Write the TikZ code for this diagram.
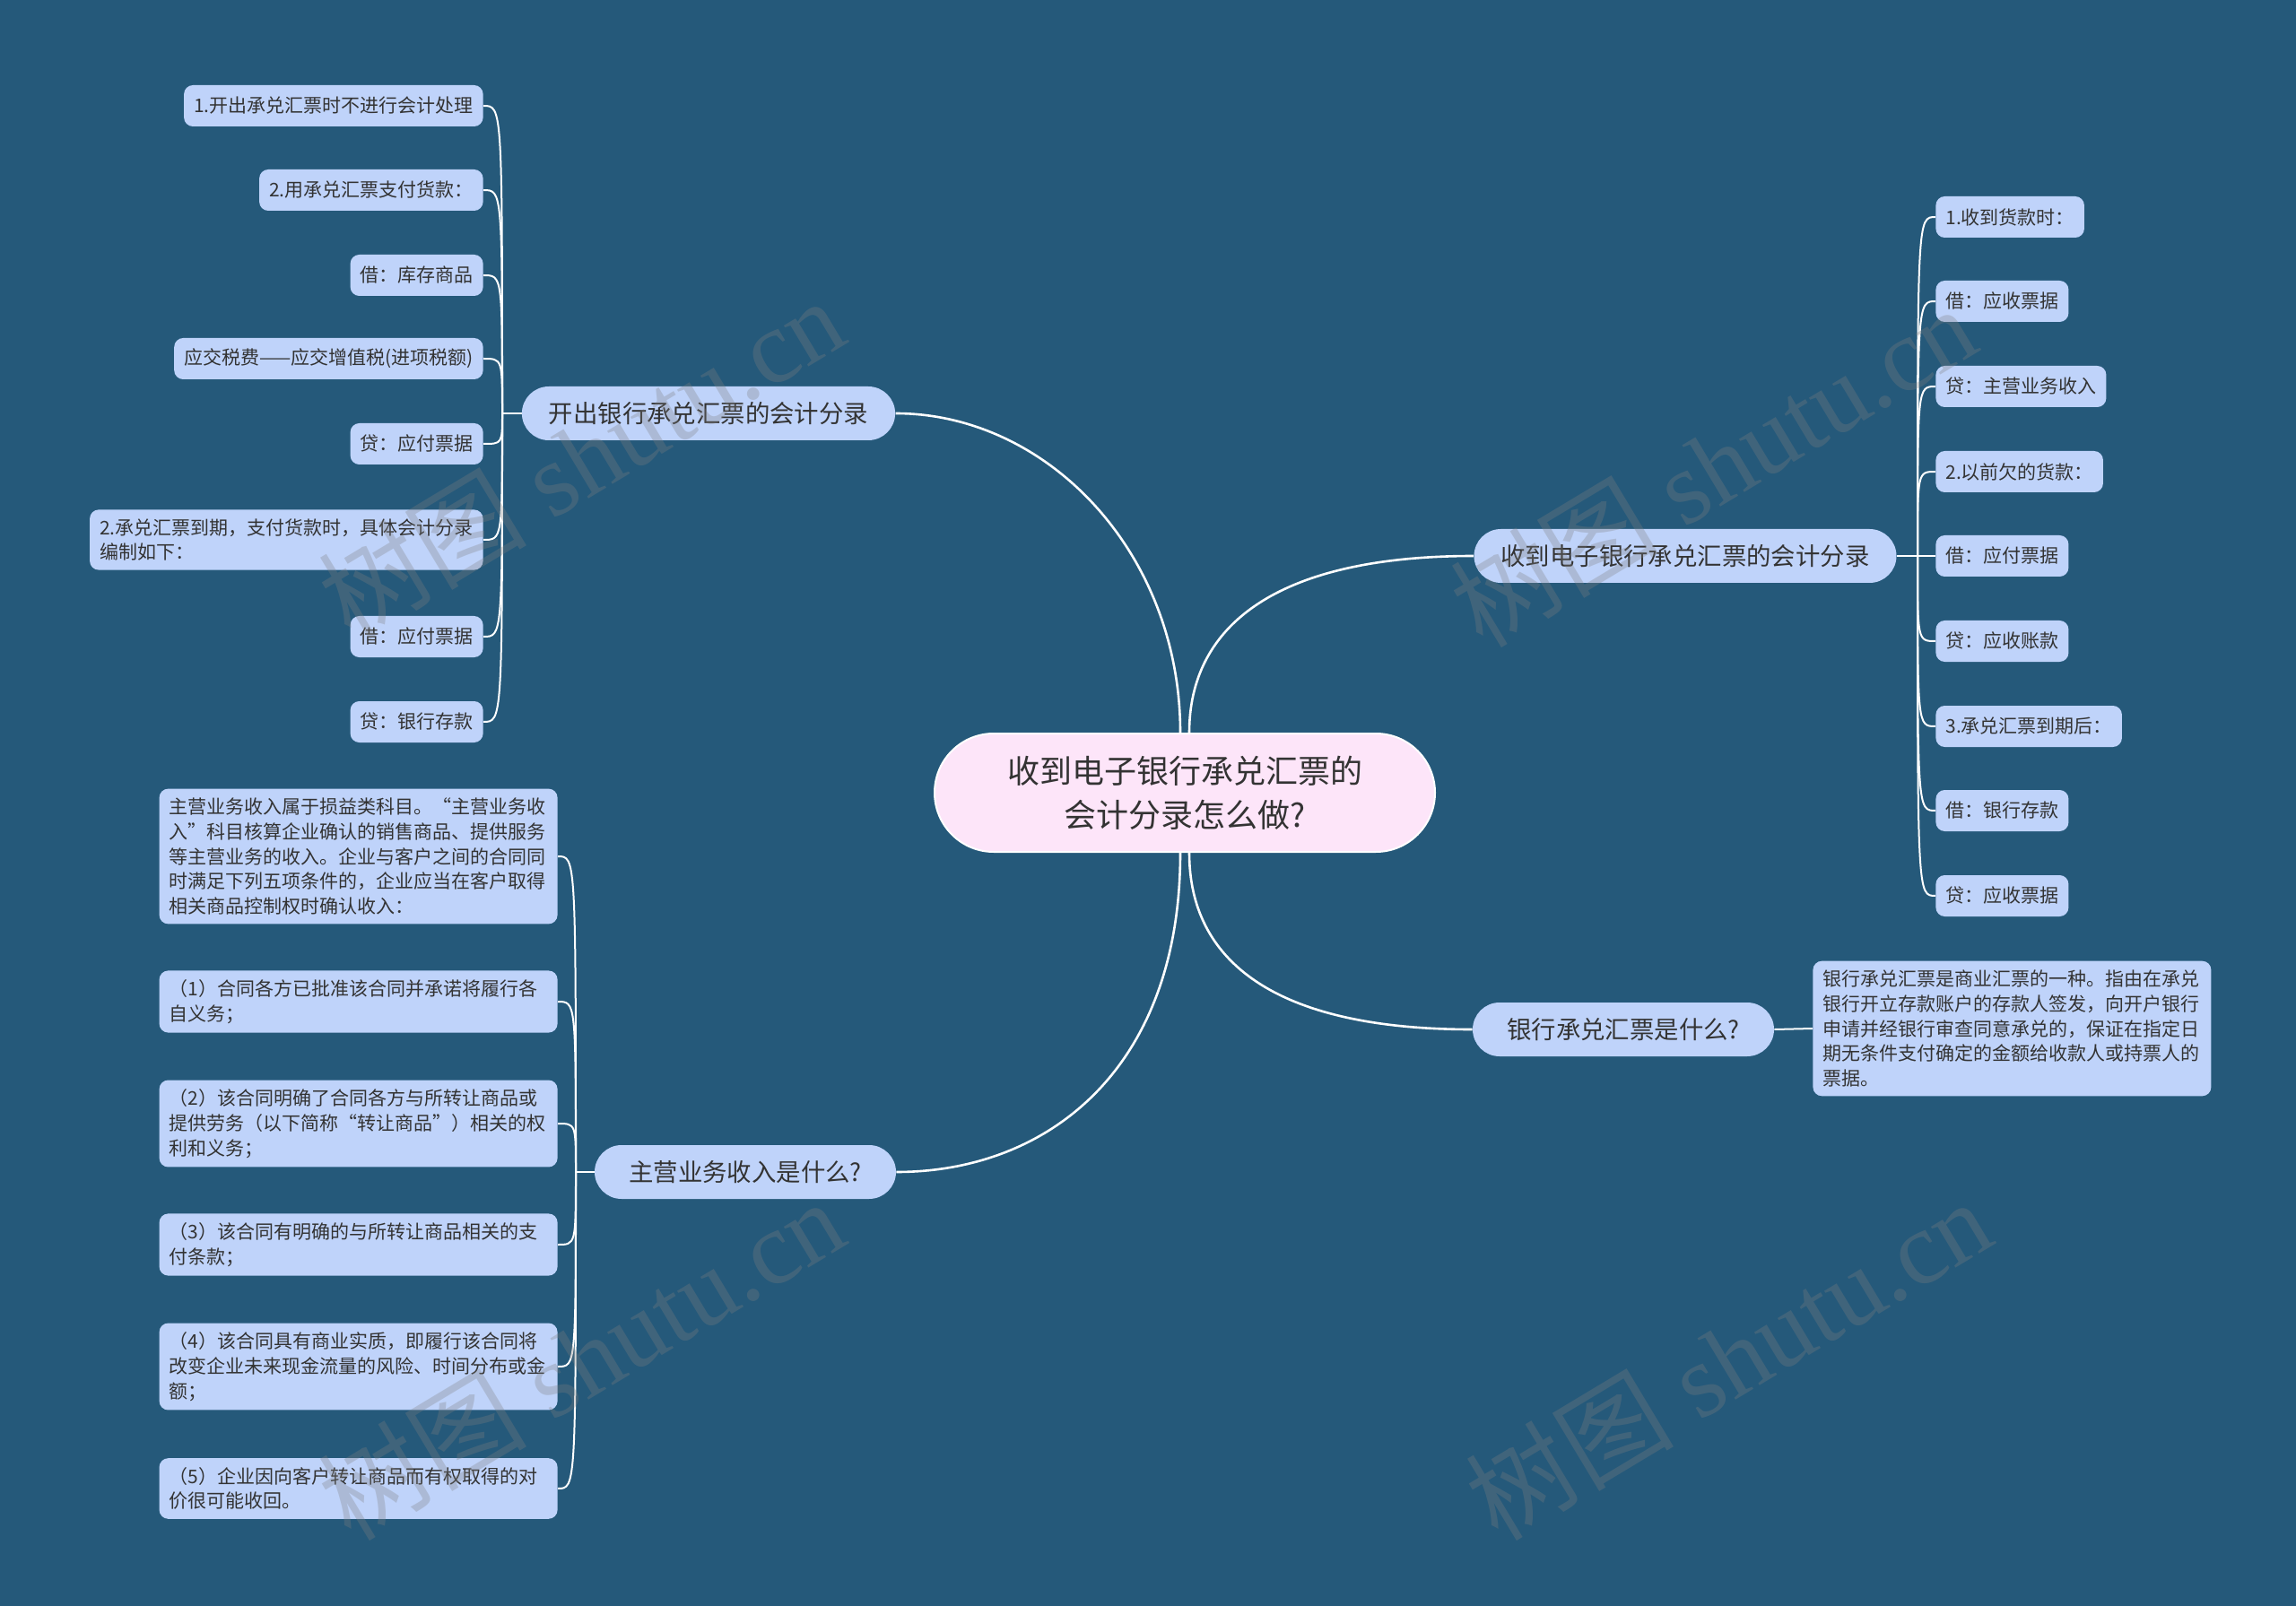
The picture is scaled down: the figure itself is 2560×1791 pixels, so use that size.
\documentclass[tikz,border=0pt]{standalone}
\usepackage{fontspec}
\setmainfont{Noto Sans CJK SC}
\newfontfamily\wmfont{Liberation Serif}
\newfontfamily\cjkfont{Noto Sans CJK SC}
\usetikzlibrary{calc,backgrounds}
\definecolor{bg}{HTML}{25597A}
\definecolor{nodeblue}{HTML}{BFD3FA}
\definecolor{centerpink}{HTML}{FDE5F9}
\definecolor{txt}{HTML}{333333}
\begin{document}
\begin{tikzpicture}[x=0.5pt,y=-0.5pt,
  leaf/.style={fill=nodeblue, rounded corners=5pt, text=txt, font=\fontsize{10.5}{13.9}\selectfont, inner xsep=5.5pt, inner ysep=5pt, minimum height=23pt, align=left},
  para/.style={leaf, text width=211pt},
  branch/.style={fill=nodeblue, rounded corners=15pt, text=txt, font=\fontsize{13.7}{16}\selectfont, minimum height=30pt, inner xsep=15pt},
  root/.style={fill=centerpink, draw=white, line width=1pt, rounded corners=33pt, text=txt, font=\fontsize{18}{24.5}\selectfont, minimum width=279pt, minimum height=66pt, align=center},
  trunk/.style={draw=white, line width=1.3pt},
  conn/.style={draw=white, line width=1pt},
  wm/.style={rotate=31, text=gray, opacity=0.3, font=\wmfont\fontsize{58}{58}\selectfont}
]
% nodes
\node[root] (c) at (1321,884) {收到电子银行承兑汇票的\\会计分录怎么做?};
\node[branch] (b1) at (790,461) {开出银行承兑汇票的会计分录};
\node[branch] (b2) at (1879,620) {收到电子银行承兑汇票的会计分录};
\node[branch, minimum width=168pt] (b3) at (1810,1148) {银行承兑汇票是什么?};
\node[branch, minimum width=168pt] (b4) at (831,1307) {主营业务收入是什么?};

\coordinate (j1) at (560,461);
\coordinate (j2) at (2138,620);
\coordinate (j4) at (642,1307);

% branch 1 children
\node[leaf, anchor=east] (a1) at (539,118) {1.开出承兑汇票时不进行会计处理};
\node[leaf, anchor=east] (a2) at (539,212) {2.用承兑汇票支付货款：};
\node[leaf, anchor=east] (a3) at (539,307) {借：库存商品};
\node[leaf, anchor=east] (a4) at (539,400) {应交税费——应交增值税(进项税额)};
\node[leaf, anchor=east] (a5) at (539,495) {贷：应付票据};
\node[leaf, anchor=east] (a6) at (539,602) {2.承兑汇票到期，支付货款时，具体会计分录\\编制如下：};
\node[leaf, anchor=east] (a7) at (539,710) {借：应付票据};
\node[leaf, anchor=east] (a8) at (539,805) {贷：银行存款};

% branch 2 children
\node[leaf, anchor=west] (r1) at (2158,242) {1.收到货款时：};
\node[leaf, anchor=west] (r2) at (2158,336) {借：应收票据};
\node[leaf, anchor=west] (r3) at (2158,431) {贷：主营业务收入};
\node[leaf, anchor=west] (r4) at (2158,526) {2.以前欠的货款：};
\node[leaf, anchor=west] (r5) at (2158,620) {借：应付票据};
\node[leaf, anchor=west] (r6) at (2158,715) {贷：应收账款};
\node[leaf, anchor=west] (r7) at (2158,810) {3.承兑汇票到期后：};
\node[leaf, anchor=west] (r8) at (2158,904) {借：银行存款};
\node[leaf, anchor=west] (r9) at (2158,999) {贷：应收票据};

% branch 3 child
\node[para, anchor=west] (bk) at (2021,1147) {银行承兑汇票是商业汇票的一种。指由在承兑\\银行开立存款账户的存款人签发，向开户银行\\申请并经银行审查同意承兑的，保证在指定日\\期无条件支付确定的金额给收款人或持票人的\\票据。};

% branch 4 children
\node[para, anchor=east] (p0) at (622,955) {主营业务收入属于损益类科目。“主营业务收\\入”科目核算企业确认的销售商品、提供服务\\等主营业务的收入。企业与客户之间的合同同\\时满足下列五项条件的，企业应当在客户取得\\相关商品控制权时确认收入：};
\node[para, anchor=east] (p1) at (622,1117) {（1）合同各方已批准该合同并承诺将履行各\\自义务；};
\node[para, anchor=east] (p2) at (622,1253) {（2）该合同明确了合同各方与所转让商品或\\提供劳务（以下简称“转让商品”）相关的权\\利和义务；};
\node[para, anchor=east] (p3) at (622,1388) {（3）该合同有明确的与所转让商品相关的支\\付条款；};
\node[para, anchor=east] (p4) at (622,1524) {（4）该合同具有商业实质，即履行该合同将\\改变企业未来现金流量的风险、时间分布或金\\额；};
\node[para, anchor=east] (p5) at (622,1660) {（5）企业因向客户转让商品而有权取得的对\\价很可能收回。};

\begin{pgfonlayer}{background}
\fill[bg] (0,0) rectangle (2560,1791);
\draw[trunk] (b1.east) .. controls +(170,0) and +(0,-200) .. ([xshift=-2.5pt]c.north);
\draw[trunk] ([xshift=2.5pt]c.north) .. controls +(0,-118) and +(-222,0) .. (b2.west);
\draw[trunk] ([xshift=2.5pt]c.south) .. controls +(0,120) and +(-222,0) .. (b3.west);
\draw[trunk] ([xshift=-2.5pt]c.south) .. controls +(0,240) and +(170,0) .. (b4.east);
\draw[conn] (b1.west) -- (j1);
\foreach \n in {a1,a2,a3,a4,a5,a6,a7,a8}
  \draw[conn] (j1) .. controls (j1 |- \n.east) and (j1 |- \n.east) .. (\n.east);
\draw[conn] (b2.east) -- (j2);
\foreach \n in {r1,r2,r3,r4,r5,r6,r7,r8,r9}
  \draw[conn] (j2) .. controls (j2 |- \n.west) and (j2 |- \n.west) .. (\n.west);
\draw[conn] (b3.east) -- (bk.west);
\draw[conn] (b4.west) -- (j4);
\foreach \n in {p0,p1,p2,p3,p4,p5}
  \draw[conn] (j4) .. controls (j4 |- \n.east) and (j4 |- \n.east) .. (\n.east);
\end{pgfonlayer}

% watermarks
\node[wm] (w1) at (648,510) {{\cjkfont 树图} shutu.cn};
\node[wm] (w2) at (1910,519) {{\cjkfont 树图} shutu.cn};
\node[wm] (w3) at (648,1515) {{\cjkfont 树图} shutu.cn};
\node[wm] (w4) at (1927,1515) {{\cjkfont 树图} shutu.cn};
\end{tikzpicture}
\end{document}
